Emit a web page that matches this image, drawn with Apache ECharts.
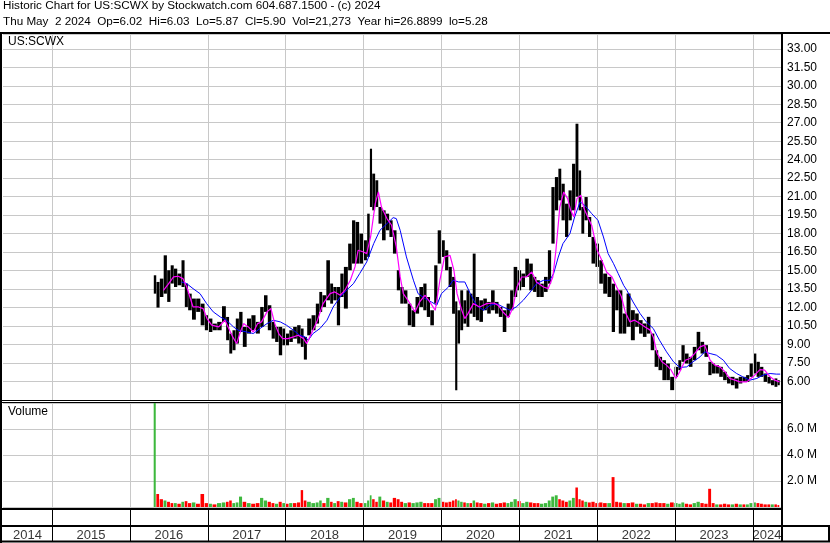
<!DOCTYPE html>
<html><head><meta charset="utf-8">
<script src="https://cdn.jsdelivr.net/npm/echarts@6/dist/echarts.min.js"></script>
<style>html,body{margin:0;padding:0;background:#fff}#c{width:830px;height:543px}</style>
</head><body><div id="c"></div>
<script>
// ---- data ----
const yearBounds = [2015,2016,2017,2018,2019,2020,2021,2022,2023,2024];
const yearLabels = ['2014','2015','2016','2017','2018','2019','2020','2021','2022','2023','2024'];
const priceTicksLabelled = [6,7.5,9,10.5,12,13.5,15,16.5,18,19.5,21,22.5,24,25.5,27,28.5,30,31.5,33];
const volTickLabels = ['2.0 M','4.0 M','6.0 M'];

const priceT = [2016.322,2016.356,2016.408,2016.455,2016.498,2016.545,2016.583,2016.635,2016.686,2016.720,
2016.771,2016.819,2016.878,2016.934,2016.986,2017.033,2017.088,2017.148,2017.212,2017.255,
2017.294,2017.336,2017.379,2017.422,2017.473,2017.529,2017.585,2017.645,2017.696,2017.743,
2017.794,2017.841,2017.884,2017.935,2017.978,2018.021,2018.068,2018.119,2018.171,2018.215,
2018.248,2018.30,2018.36,2018.41,2018.45,2018.49,2018.55,2018.59,2018.63,2018.68,
2018.72,2018.77,2018.83,2018.87,2018.92,2018.97,2019.02,2019.07,2019.09,2019.13,
2019.17,2019.21,2019.26,2019.31,2019.35,2019.40,2019.45,2019.49,2019.54,2019.59,
2019.64,2019.69,2019.74,2019.79,2019.83,2019.88,2019.93,2019.97,2020.02,2020.07,
2020.11,2020.16,2020.19,2020.22,2020.26,2020.30,2020.34,2020.38,2020.42,2020.46,
2020.51,2020.56,2020.61,2020.66,2020.71,2020.76,2020.81,2020.86,2020.90,2020.95,
2021.00,2021.05,2021.10,2021.15,2021.20,2021.24,2021.29,2021.34,2021.39,2021.43,
2021.48,2021.52,2021.56,2021.61,2021.65,2021.70,2021.74,2021.78,2021.81,2021.86,
2021.90,2021.95,2022.00,2022.05,2022.10,2022.16,2022.21,2022.25,2022.30,2022.35,
2022.40,2022.46,2022.51,2022.56,2022.61,2022.66,2022.71,2022.76,2022.81,2022.86,
2022.91,2022.96,2023.02,2023.06,2023.10,2023.15,2023.20,2023.25,2023.30,2023.35,
2023.40,2023.45,2023.49,2023.54,2023.59,2023.64,2023.69,2023.74,2023.79,2023.84,
2023.89,2023.93,2023.98,2024.02,2024.07,2024.11,2024.16,2024.21,2024.25,2024.30,2024.33];

const priceHi = [14.62,14.08,14.35,16.24,15.03,15.43,15.16,14.76,15.84,13.95,
13.13,12.73,12.73,12.32,11.38,11.11,10.70,10.84,12.11,11.24,
9.89,10.16,11.11,11.65,10.43,11.11,11.38,10.84,12.05,13.00,
12.19,10.84,10.43,10.43,10.30,9.89,10.16,10.43,10.57,10.30,
9.62,11.11,11.38,12.32,13.27,13.00,15.84,13.95,13.67,13.67,
14.76,15.30,17.19,19.08,18.95,18.00,17.46,19.62,24.89,22.87,
22.33,20.16,19.89,19.62,19.08,18.27,15.03,13.67,13.40,12.32,
11.78,12.86,13.67,13.95,12.86,11.78,15.43,18.27,17.46,16.65,
15.30,14.49,12.50,11.78,13.40,12.59,13.40,13.13,16.38,12.86,
12.59,12.73,12.46,13.40,12.46,12.05,11.78,12.32,13.40,15.30,
15.03,14.76,15.97,15.57,14.49,14.22,13.94,14.49,16.65,21.78,
22.59,23.27,22.05,20.43,21.51,23.67,26.92,23.13,20.16,20.97,
19.35,17.73,17.19,15.84,14.76,14.49,13.94,13.40,13.40,11.52,
13.14,11.79,11.52,10.98,10.71,11.25,9.89,8.54,8.00,7.73,
7.46,6.38,7.19,7.73,8.95,8.27,8.00,8.81,10.03,9.22,
8.95,7.60,7.46,7.33,7.19,6.79,6.38,6.38,6.25,6.38,
6.38,6.52,7.46,8.27,7.60,7.19,6.65,6.38,6.11,6.25,6.11];

const priceLo = [13.13,12.00,12.86,13.13,12.46,13.95,13.67,13.81,13.67,12.05,
11.78,11.02,11.65,10.56,10.16,10.02,10.16,10.16,10.84,9.35,
8.27,8.54,9.08,10.02,8.81,9.89,10.16,9.89,10.43,11.65,
10.16,9.48,9.21,8.13,8.94,8.94,9.21,9.48,9.08,8.81,
7.78,9.75,10.16,10.70,11.65,12.05,12.59,12.32,12.59,10.56,
12.86,11.92,15.03,15.57,15.57,15.57,15.84,16.11,20.16,19.89,
20.16,18.81,17.46,18.27,17.73,16.38,13.40,12.32,12.32,10.56,
10.43,11.51,12.05,11.78,11.24,10.56,12.32,15.57,16.11,15.03,
13.67,11.50,5.29,9.08,10.16,10.70,10.43,11.51,11.24,10.97,
10.84,11.78,11.51,11.78,11.51,11.24,10.02,11.24,11.78,12.86,
13.40,13.67,14.49,13.40,13.27,12.86,12.86,13.27,13.94,17.19,
19.89,20.70,19.08,17.73,19.08,19.89,21.00,19.89,18.00,19.08,
17.73,15.57,15.30,13.94,13.13,12.86,10.02,11.78,9.89,9.89,
10.44,9.35,10.44,9.89,9.62,9.89,8.54,7.19,6.92,6.11,
6.11,5.30,6.38,6.92,7.60,7.46,7.19,7.73,8.54,8.27,
8.00,6.52,6.65,6.65,6.38,6.11,5.84,5.70,5.43,5.84,
5.97,5.97,6.38,6.65,6.38,6.38,5.97,5.84,5.70,5.57,5.70];

const volM = [8.0,1.0,0.6,0.5,0.4,0.3,0.3,0.25,0.4,0.45,
0.3,0.35,0.25,1.0,0.3,0.25,0.2,0.3,0.35,0.4,
0.5,0.3,0.35,0.8,0.4,0.3,0.25,0.3,0.7,0.5,
0.4,0.3,0.25,0.4,0.3,0.25,0.3,0.3,0.35,1.3,
0.5,0.4,0.3,0.35,0.5,0.3,0.7,0.4,0.3,0.45,
0.4,0.35,0.6,0.7,0.4,0.3,0.3,0.5,0.9,0.6,
0.4,0.8,0.5,0.4,0.35,0.7,0.6,0.4,0.3,0.35,
0.3,0.35,0.4,0.3,0.3,0.3,0.6,0.7,0.4,0.35,
0.4,0.5,0.6,0.5,0.4,0.35,0.3,0.3,0.5,0.35,
0.3,0.25,0.3,0.35,0.25,0.3,0.35,0.3,0.4,0.6,
0.45,0.3,0.4,0.35,0.3,0.3,0.25,0.3,0.5,0.8,
0.9,0.6,0.5,0.4,0.5,0.7,1.5,0.6,0.5,0.4,
0.35,0.4,0.3,0.35,0.3,0.3,2.3,0.4,0.35,0.3,
0.3,0.35,0.25,0.25,0.2,0.3,0.3,0.35,0.3,0.3,
0.25,0.35,0.3,0.25,0.35,0.25,0.2,0.3,0.4,0.3,
0.25,1.4,0.3,0.2,0.2,0.25,0.2,0.2,0.25,0.2,
0.2,0.2,0.3,0.35,0.3,0.25,0.2,0.2,0.2,0.2,0.15];
// 1 = up day (green), 0 = down day (red)
const volUp = [1,0,0,1,0,0,1,0,1,0, 0,1,0,0,0,1,0,1,1,0, 0,1,1,1,0,1,0,0,1,1,
0,0,1,0,1,0,1,0,0,0, 0,1,1,1,1,0,1,0,1,0, 1,0,1,1,0,0,1,1,1,0,
0,1,0,1,0,0,0,0,1,0, 1,1,1,0,0,0,1,1,0,0, 0,0,0,1,1,0,1,0,1,0,
0,1,0,1,0,0,0,1,1,1, 0,1,1,0,0,0,1,1,1,1, 1,0,0,0,1,1,0,0,0,1,
0,0,0,0,0,1,0,0,0,1, 0,0,1,0,0,1,0,0,0,0, 1,0,1,1,1,0,0,1,1,0,
0,0,0,1,0,0,0,1,0,1, 0,1,1,1,0,0,0,0,1,0,0];

const maShortT = [2016.43,2016.49,2016.56,2016.62,2016.68,2016.73,2016.77,2016.81,2016.88,2016.94,
2016.99,2017.05,2017.14,2017.22,2017.26,2017.32,2017.37,2017.41,2017.46,2017.52,
2017.585,2017.64,2017.69,2017.76,2017.81,2017.86,2017.91,2017.96,2018.03,2018.10,
2018.16,2018.23,2018.27,2018.33,2018.40,2018.48,2018.57,2018.63,2018.70,2018.76,
2018.83,2018.89,2018.93,2019.00,2019.04,2019.09,2019.15,2019.19,2019.23,2019.30,
2019.36,2019.42,2019.47,2019.51,2019.57,2019.66,2019.72,2019.79,2019.85,2019.92,
2019.98,2020.04,2020.11,2020.16,2020.20,2020.26,2020.30,2020.34,2020.41,2020.49,
2020.58,2020.67,2020.73,2020.79,2020.86,2020.92,2020.97,2021.03,2021.09,2021.16,
2021.22,2021.31,2021.37,2021.43,2021.47,2021.52,2021.57,2021.62,2021.66,2021.70,
2021.74,2021.79,2021.83,2021.89,2021.93,2022.00,2022.06,2022.12,2022.19,2022.25,
2022.31,2022.36,2022.42,2022.48,2022.55,2022.61,2022.68,2022.72,2022.77,2022.83,
2022.89,2022.95,2023.01,2023.06,2023.13,2023.19,2023.25,2023.32,2023.38,2023.45,
2023.51,2023.575,2023.64,2023.70,2023.77,2023.83,2023.92,2024.00,2024.09,2024.15,
2024.22,2024.28,2024.34];
const maShortV = [13.40,13.89,14.49,14.54,14.35,13.67,12.86,12.05,12.05,11.92,
11.11,10.57,10.43,10.97,10.43,9.62,9.08,9.89,10.70,10.43,
10.02,10.70,10.84,11.65,11.92,10.70,9.89,9.48,9.48,9.62,
9.75,9.48,9.08,9.89,10.84,12.32,13.13,13.27,13.00,13.40,
14.22,15.30,16.65,16.51,16.38,17.73,20.43,21.38,20.16,19.22,
18.68,16.92,14.49,13.13,12.59,11.65,12.46,13.00,12.46,11.78,
14.22,16.11,16.24,15.03,13.13,11.80,11.10,11.51,12.32,12.05,
12.32,12.37,12.18,11.64,11.18,12.05,13.67,14.48,14.48,14.89,
14.08,13.67,13.54,14.48,16.65,20.16,21.38,20.84,19.89,19.35,
20.84,21.11,20.03,19.21,18.67,16.65,15.83,14.89,14.48,13.67,
12.90,11.65,10.84,10.98,10.71,10.44,10.17,9.62,8.27,7.60,
7.33,6.92,6.25,6.79,7.73,7.87,8.27,8.81,8.95,7.73,
7.33,7.19,6.79,6.25,6.11,5.97,5.97,6.38,6.97,6.92,
6.38,6.11,5.97];

const maLongT = [2016.66,2016.73,2016.81,2016.90,2016.985,2017.07,2017.16,2017.24,2017.33,2017.39,
2017.50,2017.585,2017.67,2017.76,2017.84,2017.93,2018.01,2018.10,2018.18,2018.25,
2018.29,2018.35,2018.44,2018.53,2018.61,2018.70,2018.78,2018.87,2018.95,2019.04,
2019.13,2019.21,2019.30,2019.38,2019.42,2019.47,2019.55,2019.64,2019.70,2019.79,
2019.87,2019.94,2020.00,2020.09,2020.15,2020.22,2020.30,2020.37,2020.45,2020.54,
2020.62,2020.71,2020.79,2020.88,2020.96,2021.05,2021.14,2021.22,2021.31,2021.39,
2021.44,2021.50,2021.56,2021.65,2021.71,2021.78,2021.84,2021.93,2022.01,2022.08,
2022.14,2022.21,2022.27,2022.34,2022.38,2022.46,2022.55,2022.63,2022.72,2022.80,
2022.89,2022.98,2023.06,2023.15,2023.23,2023.32,2023.38,2023.45,2023.53,2023.62,
2023.70,2023.79,2023.87,2023.96,2024.05,2024.13,2024.22,2024.30,2024.35];
const maLongV = [14.08,13.94,13.54,13.13,12.32,11.65,11.24,10.97,10.43,10.16,
10.02,9.89,10.30,10.70,10.97,10.84,10.57,10.16,9.75,9.62,
9.35,9.89,10.30,10.97,12.05,12.86,13.40,13.94,14.76,15.70,
17.19,18.27,18.81,19.30,19.22,18.27,16.11,14.22,13.13,12.73,
12.46,12.19,13.13,13.67,14.22,14.08,14.08,13.13,12.18,11.78,
12.18,12.32,12.05,11.78,12.05,12.59,13.27,13.94,14.21,14.21,
14.75,16.10,17.19,18.00,19.35,20.57,20.30,19.62,19.08,17.73,
16.38,15.56,14.75,13.80,13.41,12.46,11.52,10.84,10.30,9.35,
8.41,7.60,7.14,7.19,7.60,8.00,8.41,8.27,8.14,7.73,
7.06,6.65,6.38,6.11,6.25,6.52,6.65,6.60,6.60];

// ---- chart ----
const X_MIN = 2014.37, X_MAX = 2024.36;
const FONT = 'Arial, "Liberation Sans", sans-serif';
const GRID_C = '#c8c8c8';
const yearLabelPos = yearLabels.map((y, i) => {
  const a = i === 0 ? X_MIN : yearBounds[i - 1];
  const b = i === yearLabels.length - 1 ? X_MAX : yearBounds[i];
  return [(a + b) / 2, 0.2, y];
});
const n = priceT.length;
function span(i) {
  const t = priceT[i];
  const prev = i > 0 ? priceT[i - 1] : t - (priceT[1] - priceT[0]);
  const next = i < n - 1 ? priceT[i + 1] : t + (t - priceT[i - 1]);
  return [(prev + t) / 2, (t + next) / 2];
}
function yearLines(color) {
  return {
    silent: true, symbol: 'none', animation: false,
    label: {show: false},
    lineStyle: {color: color, width: 1, type: 'solid'},
    emphasis: {disabled: true},
    data: yearBounds.map(y => ({xAxis: y}))
  };
}
const chart = echarts.init(document.getElementById('c'), null, {renderer: 'canvas'});
const xBase = {type: 'value', min: X_MIN, max: X_MAX, show: false, splitLine: {show: false}};
chart.setOption({
  animation: false,
  backgroundColor: '#fff',
  grid: [
    {left: 3, top: 34, width: 778, height: 366},
    {left: 3, top: 403, width: 778, height: 104},
    {left: 3, top: 509, width: 778, height: 33}
  ],
  xAxis: [
    Object.assign({gridIndex: 0}, xBase),
    Object.assign({gridIndex: 1}, xBase),
    Object.assign({gridIndex: 2}, xBase)
  ],
  yAxis: [
    {gridIndex: 0, type: 'value', position: 'right', min: 4.5, max: 34.2, interval: 1.5,
     axisLine: {show: false}, axisTick: {show: false},
     axisLabel: {margin: 6, color: '#000', fontSize: 12, fontFamily: FONT,
       formatter: v => priceTicksLabelled.some(p => Math.abs(p - v) < 1e-6) ? v.toFixed(2) : ''},
     splitLine: {lineStyle: {color: GRID_C, width: 1}}},
    {gridIndex: 1, type: 'value', position: 'right', min: 0, max: 8, interval: 2,
     axisLine: {show: false}, axisTick: {show: false},
     axisLabel: {margin: 6, color: '#000', fontSize: 12, fontFamily: FONT,
       formatter: v => { const k = Math.round(v / 2) - 1; return (v > 0.1 && k < volTickLabels.length) ? volTickLabels[k] : ''; }},
     splitLine: {lineStyle: {color: GRID_C, width: 1}}},
    {gridIndex: 2, type: 'value', min: 0, max: 1, show: false, splitLine: {show: false}}
  ],
  series: [
    {type: 'line', xAxisIndex: 0, yAxisIndex: 0, data: [], markLine: yearLines(GRID_C), z: 1},
    {type: 'line', xAxisIndex: 1, yAxisIndex: 1, data: [], markLine: yearLines(GRID_C), z: 1},
    {type: 'scatter', xAxisIndex: 2, yAxisIndex: 2, symbolSize: 0, data: yearLabelPos,
     label: {show: true, position: 'inside', formatter: p => p.value[2], color: '#000', fontSize: 13, fontFamily: FONT},
     markLine: yearLines('#000'), z: 3},
    {type: 'custom', xAxisIndex: 0, yAxisIndex: 0, z: 4,
     data: priceT.map((t, i) => [t, priceLo[i], priceHi[i]]),
     encode: {x: 0, y: [1, 2]},
     renderItem: (params, api) => {
       const i = params.dataIndex;
       const s = span(i);
       const p0 = api.coord([s[0], api.value(2)]);
       const p1 = api.coord([s[1], api.value(1)]);
       const w = p1[0] - p0[0];
       return {type: 'rect', shape: {x: p0[0] + w * 0.04, y: p0[1], width: Math.max(1.2, w * 0.92), height: p1[1] - p0[1]},
               style: {fill: '#000'}};
     }},
    {type: 'line', xAxisIndex: 0, yAxisIndex: 0, z: 5, symbol: 'none',
     data: maLongT.map((t, i) => [t, maLongV[i]]), lineStyle: {color: '#0000ff', width: 1}},
    {type: 'line', xAxisIndex: 0, yAxisIndex: 0, z: 6, symbol: 'none',
     data: maShortT.map((t, i) => [t, maShortV[i]]), lineStyle: {color: '#ff00ff', width: 1.2}},
    {type: 'custom', xAxisIndex: 1, yAxisIndex: 1, z: 4,
     data: priceT.map((t, i) => [t, volM[i], volUp[i]]),
     encode: {x: 0, y: 1},
     renderItem: (params, api) => {
       const i = params.dataIndex;
       const s = span(i);
       const p0 = api.coord([s[0], api.value(1)]);
       const p1 = api.coord([s[1], 0]);
       return {type: 'rect', shape: {x: p0[0], y: p0[1], width: Math.max(1, p1[0] - p0[0] - 0.6), height: p1[1] - p0[1]},
               style: {fill: api.value(2) ? '#3db83d' : '#ff0000'}};
     }}
  ],
  graphic: [
    {type: 'text', left: 3, top: 0, silent: true,
     style: {text: 'Historic Chart for US:SCWX by Stockwatch.com 604.687.1500 - (c) 2024', font: '11.7px ' + FONT, fill: '#000'}},
    {type: 'text', left: 3, top: 16, silent: true,
     style: {text: 'Thu May  2 2024  Op=6.02  Hi=6.03  Lo=5.87  Cl=5.90  Vol=21,273  Year hi=26.8899  lo=5.28', font: '11.7px ' + FONT, fill: '#000'}},
    {type: 'text', left: 8, top: 36, silent: true, z: 10, style: {text: 'US:SCWX', font: '12px ' + FONT, fill: '#000'}},
    {type: 'text', left: 8, top: 406, silent: true, z: 10, style: {text: 'Volume', font: '12px ' + FONT, fill: '#000'}},
    {type: 'line', silent: true, z: 20, shape: {x1: 0, y1: 33, x2: 830, y2: 33}, style: {stroke: '#000', lineWidth: 2}},
    {type: 'line', silent: true, z: 20, shape: {x1: 1, y1: 32, x2: 1, y2: 543}, style: {stroke: '#000', lineWidth: 2}},
    {type: 'line', silent: true, z: 20, shape: {x1: 782, y1: 32, x2: 782, y2: 542}, style: {stroke: '#000', lineWidth: 2}},
    {type: 'line', silent: true, z: 20, shape: {x1: 0, y1: 400.5, x2: 782, y2: 400.5}, style: {stroke: '#000', lineWidth: 1}},
    {type: 'line', silent: true, z: 20, shape: {x1: 0, y1: 402.5, x2: 782, y2: 402.5}, style: {stroke: '#000', lineWidth: 1}},
    {type: 'line', silent: true, z: 20, shape: {x1: 0, y1: 509, x2: 782, y2: 509}, style: {stroke: '#000', lineWidth: 2}},
    {type: 'line', silent: true, z: 20, shape: {x1: 0, y1: 526, x2: 830, y2: 526}, style: {stroke: '#000', lineWidth: 2}},
    {type: 'line', silent: true, z: 20, shape: {x1: 0, y1: 541.5, x2: 830, y2: 541.5}, style: {stroke: '#000', lineWidth: 2}},
    {type: 'line', silent: true, z: 20, shape: {x1: 829, y1: 525, x2: 829, y2: 542}, style: {stroke: '#000', lineWidth: 2}}
  ]
});
</script></body></html>
